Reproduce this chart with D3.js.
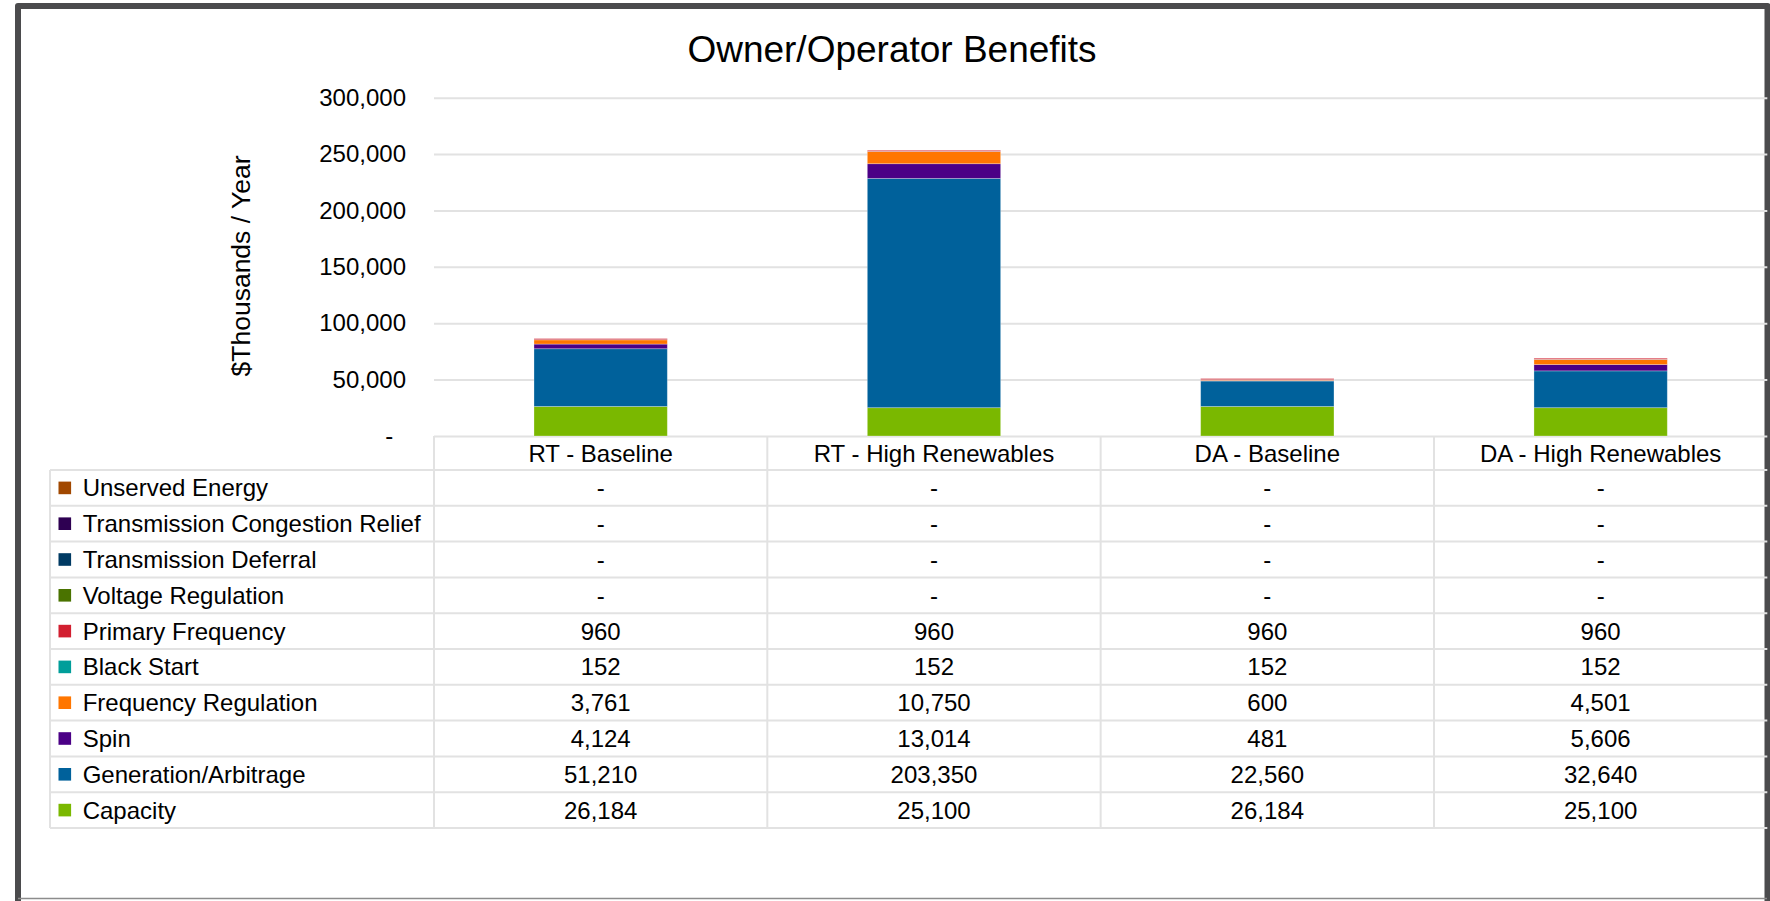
<!DOCTYPE html>
<html>
<head>
<meta charset="utf-8">
<script src="https://cdn.jsdelivr.net/npm/d3@7"></script>
<style>
  html, body { margin: 0; padding: 0; background: #ffffff; }
  svg { display: block; }
  text { font-family: "Liberation Sans", Arial, sans-serif; fill: #000; }
</style>
</head>
<body>
<svg id="chart" width="1770" height="901"></svg>
<script>
// Scenario columns
const categories = ["RT - Baseline", "RT - High Renewables", "DA - Baseline", "DA - High Renewables"];

// Benefit streams, stacked bottom to top
const seriesNames = [
  "Capacity", "Generation/Arbitrage", "Spin", "Frequency Regulation", "Black Start",
  "Primary Frequency", "Voltage Regulation", "Transmission Deferral",
  "Transmission Congestion Relief", "Unserved Energy"
];

// $Thousands / Year per scenario
const capacity        = [26184, 25100, 26184, 25100];
const generation      = [51210, 203350, 22560, 32640];
const spin            = [4124, 13014, 481, 5606];
const freqRegulation  = [3761, 10750, 600, 4501];
const blackStart      = [152, 152, 152, 152];
const primaryFreq     = [960, 960, 960, 960];
const voltageReg      = [0, 0, 0, 0];
const transDeferral   = [0, 0, 0, 0];
const transCongestion = [0, 0, 0, 0];
const unservedEnergy  = [0, 0, 0, 0];

const yTicks = [0, 50000, 100000, 150000, 200000, 250000, 300000];

const seriesColors = [
  "#7ab800", "#00619b", "#4b0086", "#ff7600", "#009e9a",
  "#d21f30", "#4a7300", "#003a63", "#2e0052", "#a14800"
];

const seriesValues = [capacity, generation, spin, freqRegulation, blackStart,
  primaryFreq, voltageReg, transDeferral, transCongestion, unservedEnergy];

// Rows in the shape d3.stack expects
const rows = categories.map((c, i) => {
  const r = { category: c };
  seriesNames.forEach((s, k) => { r[s] = seriesValues[k][i]; });
  return r;
});

const svg = d3.select("#chart");
const plotLeft = 434, plotRight = 1767.3, plotTop = 97.7, plotBottom = 436;
const tableLeft = 50, headerBottom = 470, rowH = 35.8;
const gridColor = "#e2e2e2";

const x = d3.scaleBand().domain(categories).range([plotLeft, plotRight]).padding(0);
const y = d3.scaleLinear().domain([0, 300000]).range([plotBottom, plotTop]);
const color = d3.scaleOrdinal().domain(seriesNames).range(seriesColors);

// Frame
svg.append("rect").attr("x", 0).attr("y", 0).attr("width", 1770).attr("height", 901).attr("fill", "#fff");
svg.append("path")
  .attr("d", "M18,901 L18,6 L1767.5,6 L1767.5,901")
  .attr("fill", "none").attr("stroke", "#4b4b4d").attr("stroke-width", 6)
  .attr("stroke-linejoin", "round");
svg.append("line").attr("x1", 18).attr("x2", 1767).attr("y1", 898.5).attr("y2", 898.5)
  .attr("stroke", "#8c8c8c").attr("stroke-width", 1.5);

// Title
svg.append("text").attr("x", 892).attr("y", 62)
  .attr("text-anchor", "middle").style("font-size", "37px")
  .text("Owner/Operator Benefits");

// Gridlines
const grid = svg.append("g").attr("transform", `translate(${plotLeft},0)`)
  .call(d3.axisLeft(y).tickValues(yTicks).tickSize(-(plotRight - plotLeft)).tickFormat(""));
grid.select(".domain").remove();
grid.selectAll(".tick line").attr("stroke", gridColor).attr("stroke-width", 2);

// Y axis labels
const yAxis = svg.append("g").attr("transform", `translate(${plotLeft},0)`)
  .call(d3.axisLeft(y).tickValues(yTicks).tickSize(0).tickPadding(28)
    .tickFormat(d => d === 0 ? "-" : d3.format(",")(d)));
yAxis.select(".domain").remove();
yAxis.selectAll(".tick text").style("font-size", "24px").attr("fill", "#000")
  .attr("font-family", null)
  .attr("dx", d => d === 0 ? -12.7 : 0);

// Y axis title
svg.append("text")
  .attr("transform", "translate(250,266) rotate(-90)")
  .attr("text-anchor", "middle").style("font-size", "26.5px")
  .text("$Thousands / Year");

// Stacked bars
const stacked = d3.stack().keys(seriesNames)(rows);
const barW = x.bandwidth() * 0.4;
svg.append("g").selectAll("g").data(stacked).join("g")
  .attr("fill", d => color(d.key))
  .selectAll("rect").data(d => d).join("rect")
  .attr("x", d => x(d.data.category) + (x.bandwidth() - barW) / 2)
  .attr("width", barW)
  .attr("y", d => y(d[1]))
  .attr("height", d => y(d[0]) - y(d[1]))
  .attr("stroke", "#ffffff").attr("stroke-opacity", 0.35).attr("stroke-width", 0.8);

// Data table
const table = svg.append("g");
const tableRows = seriesNames.slice().reverse();
const tableBottom = headerBottom + rowH * tableRows.length;

// Horizontal rules
table.selectAll("line.h").data(d3.range(tableRows.length + 1)).join("line")
  .attr("x1", tableLeft).attr("x2", plotRight)
  .attr("y1", i => headerBottom + i * rowH).attr("y2", i => headerBottom + i * rowH)
  .attr("stroke", gridColor).attr("stroke-width", 2);
// Vertical rules
table.append("line").attr("x1", tableLeft).attr("x2", tableLeft)
  .attr("y1", headerBottom).attr("y2", tableBottom)
  .attr("stroke", gridColor).attr("stroke-width", 2);
table.selectAll("line.v").data(categories).join("line")
  .attr("x1", d => x(d)).attr("x2", d => x(d))
  .attr("y1", plotBottom).attr("y2", tableBottom)
  .attr("stroke", gridColor).attr("stroke-width", 2);

// Column headers
table.selectAll("text.hdr").data(categories).join("text")
  .attr("x", d => x(d) + x.bandwidth() / 2)
  .attr("y", (plotBottom + headerBottom) / 2 + 8.5)
  .attr("text-anchor", "middle").style("font-size", "24px")
  .text(d => d);

// Legend keys and labels
const rowG = table.selectAll("g.row").data(tableRows).join("g")
  .attr("transform", (d, i) => `translate(0,${headerBottom + i * rowH})`);
rowG.append("rect")
  .attr("x", 58.5).attr("y", rowH / 2 - 6.3).attr("width", 12.6).attr("height", 12.6)
  .attr("fill", d => color(d));
rowG.append("text")
  .attr("x", 82.7).attr("y", rowH / 2 + 8.5).style("font-size", "24px")
  .text(d => d);
rowG.selectAll("text.val").data(s => categories.map(c => ({ c, v: rows.find(r => r.category === c)[s] })))
  .join("text")
  .attr("x", d => x(d.c) + x.bandwidth() / 2)
  .attr("y", rowH / 2 + 8.5)
  .attr("text-anchor", "middle").style("font-size", "24px")
  .text(d => d.v === 0 ? "-" : d3.format(",")(d.v));
</script>
</body>
</html>
